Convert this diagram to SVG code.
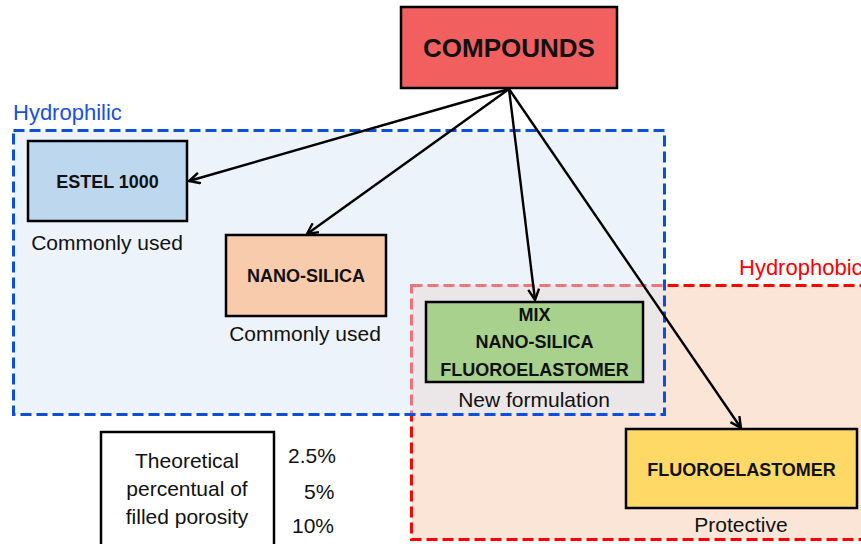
<svg xmlns="http://www.w3.org/2000/svg" width="861" height="544" viewBox="0 0 861 544">
<defs>
<style>
.box{stroke:#000;stroke-width:2.5}
.lbl{font-family:"Liberation Sans",Arial,sans-serif;font-weight:bold;font-size:18px;fill:#111;text-anchor:middle}
.txt{font-family:"Liberation Sans",Arial,sans-serif;font-size:21px;fill:#111}
.mid{text-anchor:middle}
.conn{stroke:#000;stroke-width:2.4;fill:none;marker-end:url(#arr)}
</style>
<marker id="arr" viewBox="0 0 12 12" refX="11" refY="6" markerWidth="13" markerHeight="13" markerUnits="userSpaceOnUse" orient="auto">
<path d="M1,1 L11,6 L1,11" fill="none" stroke="#000" stroke-width="2.2"/>
</marker>
</defs>
<rect width="861" height="544" fill="#fff"/>
<g id="hydrophobic">
<rect x="411.5" y="285.5" width="470" height="254" fill="#FBE5D6" stroke="#FF0000" stroke-width="3" stroke-dasharray="11 5"/>
<text x="739" y="275" class="txt" style="fill:#FF0000;font-size:22px">Hydrophobic</text>
</g>
<g id="hydrophilic">
<rect x="13.5" y="130.5" width="651" height="284" fill="#DCE8F8" fill-opacity="0.5" stroke="#0B4FDB" stroke-width="3" stroke-dasharray="11 5"/>
<text x="13" y="120" class="txt" style="fill:#1A4FE0;font-size:22px">Hydrophilic</text>
</g>
<g id="compounds">
<rect class="box" x="401" y="7" width="216" height="81" fill="#F25F5F"/>
<text x="509" y="57" class="lbl" style="font-size:26px">COMPOUNDS</text>
</g>
<g id="estel">
<rect class="box" x="28" y="141" width="159" height="80" fill="#BDD7EE"/>
<text x="107.5" y="188" class="lbl">ESTEL 1000</text>
<text x="107" y="250" class="txt mid">Commonly used</text>
</g>
<g id="nanosilica">
<rect class="box" x="226" y="235" width="160" height="81" fill="#F8CBAD"/>
<text x="306" y="282" class="lbl">NANO-SILICA</text>
<text x="305" y="341" class="txt mid">Commonly used</text>
</g>
<g id="mix">
<rect class="box" x="426" y="302" width="217" height="80" fill="#A9D18E"/>
<text x="534.5" y="321" class="lbl">MIX</text>
<text x="534.5" y="348" class="lbl">NANO-SILICA</text>
<text x="534.5" y="376" class="lbl">FLUOROELASTOMER</text>
<text x="534" y="407" class="txt mid">New formulation</text>
</g>
<g id="fluoro">
<rect class="box" x="626" y="429" width="231" height="79" fill="#FFD966"/>
<text x="741.5" y="476" class="lbl">FLUOROELASTOMER</text>
<text x="741" y="532" class="txt mid">Protective</text>
</g>
<g id="legend">
<rect x="101" y="432" width="173" height="130" fill="#fff" stroke="#000" stroke-width="2.5"/>
<text x="187" y="468" class="txt mid">Theoretical</text>
<text x="187" y="496" class="txt mid">percentual of</text>
<text x="187" y="524" class="txt mid">filled porosity</text>
<text x="288" y="463" class="txt">2.5%</text>
<text x="304" y="499" class="txt">5%</text>
<text x="292" y="533" class="txt">10%</text>
</g>
<g id="connectors">
<line class="conn" x1="509" y1="89" x2="189" y2="181"/>
<line class="conn" x1="509" y1="89" x2="307" y2="234"/>
<line class="conn" x1="509" y1="89" x2="535" y2="300"/>
<line class="conn" x1="509" y1="89" x2="741" y2="428"/>
</g>
</svg>
